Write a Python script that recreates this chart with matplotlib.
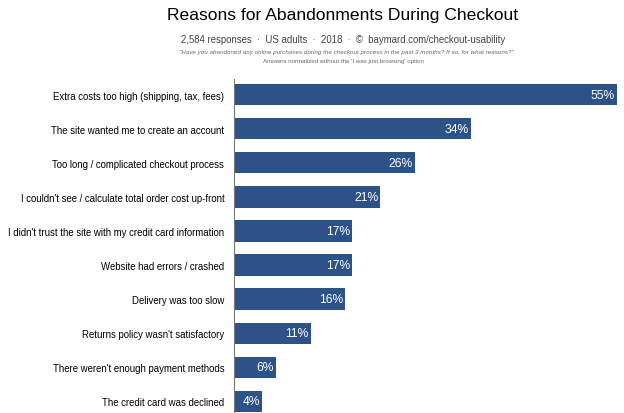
import matplotlib.pyplot as plt

plt.rcParams['font.family'] = ['Liberation Sans', 'DejaVu Sans']

reasons = [
    "Extra costs too high (shipping, tax, fees)",
    "The site wanted me to create an account",
    "Too long / complicated checkout process",
    "I couldn't see / calculate total order cost up-front",
    "I didn't trust the site with my credit card information",
    "Website had errors / crashed",
    "Delivery was too slow",
    "Returns policy wasn't satisfactory",
    "There weren't enough payment methods",
    "The credit card was declined",
]
percent = [55, 34, 26, 21, 17, 17, 16, 11, 6, 4]

fig = plt.figure(figsize=(6.24, 4.14), dpi=100)
ax = fig.add_axes([0.375, 0.0, 0.614, 0.807])

pos = list(range(len(reasons)))
ax.barh(pos, percent, height=0.62, color="#2c5287")
for y, v in zip(pos, percent):
    ax.text(v - 0.3, y, f"{v}%", ha="right", va="center", color="white", fontsize=8.7)

ax.set_xlim(0, 55)
ax.set_ylim(9.35, -0.47)
ax.set_yticks(pos)
ax.set_yticklabels(reasons, fontsize=6.9)
ax.tick_params(axis="y", length=0, pad=7)
ax.set_xticks([])
for s in ["top", "right", "bottom"]:
    ax.spines[s].set_visible(False)
ax.spines["left"].set_color("#777777")

cx = 343 / 624
fig.text(cx, 0.962, "Reasons for Abandonments During Checkout", ha="center", va="center", fontsize=12.6)
fig.text(cx, 0.903, "2,584 responses  ·  US adults  ·  2018  ·  ©  baymard.com/checkout-usability",
         ha="center", va="center", fontsize=6.9, color="#444444")
fig.text(cx + 0.005, 0.872, "\"Have you abandoned any online purchases during the checkout process in the past 3 months? If so, for what reasons?\"",
         ha="center", va="center", fontsize=4.5, style="italic", color="#666666")
fig.text(cx, 0.851, "Answers normalized without the 'I was just browsing' option",
         ha="center", va="center", fontsize=4.4, color="#666666")

fig.savefig("out.png", dpi=100)
